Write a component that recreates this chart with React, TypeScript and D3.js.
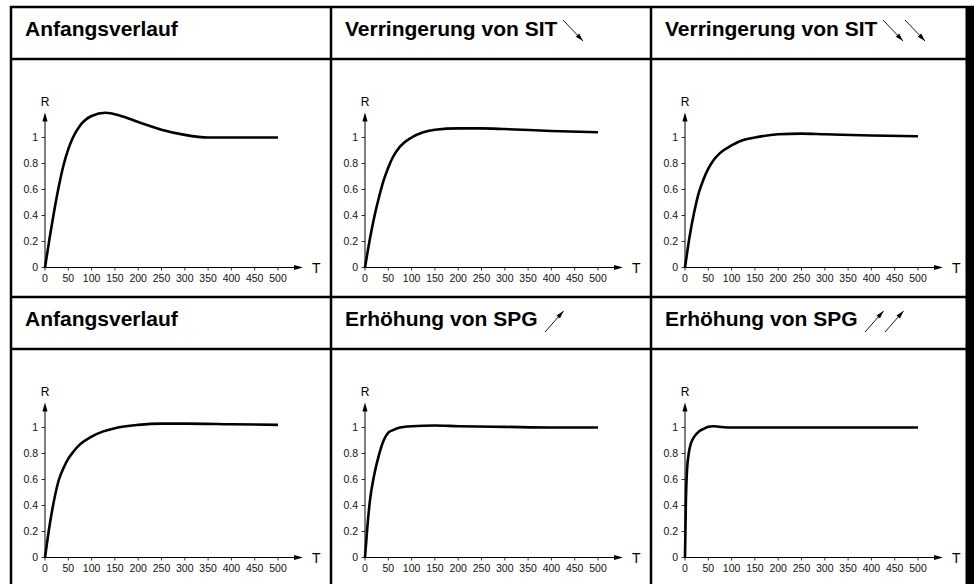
import * as d3 from 'd3';

// Response curves R over time T, one panel each
const anfang1T = [0, 10, 20, 30, 40, 50, 60, 75, 100, 130, 160, 200, 250, 300, 350, 400, 450, 500];
const anfang1R = [0, 0.23, 0.44, 0.63, 0.79, 0.91, 1.0, 1.09, 1.165, 1.19, 1.17, 1.12, 1.06, 1.02, 1.0, 1.0, 1.0, 1.0];

const sit1T = [0, 10, 20, 30, 40, 50, 60, 75, 100, 125, 150, 200, 250, 300, 400, 500];
const sit1R = [0, 0.21, 0.39, 0.54, 0.67, 0.77, 0.85, 0.93, 1.0, 1.04, 1.06, 1.07, 1.07, 1.065, 1.05, 1.04];

const sit2T = [0, 10, 20, 30, 40, 50, 60, 75, 100, 125, 150, 200, 250, 300, 400, 500];
const sit2R = [0, 0.24, 0.43, 0.58, 0.68, 0.76, 0.82, 0.88, 0.94, 0.98, 1.0, 1.025, 1.03, 1.025, 1.015, 1.01];

const anfang2T = [0, 10, 20, 30, 40, 50, 60, 75, 100, 125, 150, 200, 250, 300, 400, 500];
const anfang2R = [0, 0.25, 0.45, 0.6, 0.69, 0.76, 0.81, 0.87, 0.93, 0.97, 0.995, 1.02, 1.03, 1.03, 1.025, 1.02];

const spg1T = [0, 5, 10, 20, 30, 40, 50, 60, 75, 100, 150, 200, 300, 400, 500];
const spg1R = [0, 0.23, 0.42, 0.64, 0.79, 0.9, 0.96, 0.98, 1.0, 1.01, 1.015, 1.01, 1.005, 1.0, 1.0];

const spg2T = [0, 2, 4, 8, 12, 20, 30, 40, 50, 60, 75, 100, 200, 300, 500];
const spg2R = [0, 0.45, 0.65, 0.8, 0.87, 0.93, 0.97, 0.99, 1.005, 1.01, 1.005, 1.0, 1.0, 1.0, 1.0];

const titles = [
  'Anfangsverlauf', 'Verringerung von SIT', 'Verringerung von SIT',
  'Anfangsverlauf', 'Erhöhung von SPG', 'Erhöhung von SPG',
];
const xTicks = [0, 50, 100, 150, 200, 250, 300, 350, 400, 450, 500];
const yTicks = [0, 0.2, 0.4, 0.6, 0.8, 1];

const series = [
  { t: anfang1T, r: anfang1R, arrows: 0, dir: 'down' },
  { t: sit1T, r: sit1R, arrows: 1, dir: 'down' },
  { t: sit2T, r: sit2R, arrows: 2, dir: 'down' },
  { t: anfang2T, r: anfang2R, arrows: 0, dir: 'up' },
  { t: spg1T, r: spg1R, arrows: 1, dir: 'up' },
  { t: spg2T, r: spg2R, arrows: 2, dir: 'up' },
];

const W = 974;
const H = 584;
const colX = [11, 331, 651];
const rowY = [7, 297];
const font = '"Liberation Sans", Arial, sans-serif';

function arrowHead(x1: number, y1: number, x2: number, y2: number, len: number, half: number) {
  const a = Math.atan2(y2 - y1, x2 - x1);
  const bx = x2 - len * Math.cos(a);
  const by = y2 - len * Math.sin(a);
  const px = -Math.sin(a) * half;
  const py = Math.cos(a) * half;
  return `M${x2},${y2}L${bx + px},${by + py}L${bx - px},${by - py}Z`;
}

function Panel({ idx }: { idx: number }) {
  const col = idx % 3;
  const row = Math.floor(idx / 3);
  const left = colX[col];
  const top = rowY[row];
  const ox = left + 34;
  const oy = top + 52 + 208.5;
  const s = series[idx];

  const x = d3.scaleLinear().domain([0, 500]).range([ox, ox + 233]);
  const y = d3.scaleLinear().domain([0, 1]).range([oy, oy - 130]);
  const pts: [number, number][] = s.t.map((t, i) => [t, s.r[i]]);
  const line = d3.line<[number, number]>()
    .x(d => x(d[0]))
    .y(d => y(d[1]))
    .curve(d3.curveMonotoneX);

  const xEnd = ox + 258;
  const yEnd = oy - 155;

  // title arrows
  const arrowEls = [];
  for (let k = 0; k < s.arrows; k++) {
    let x1, y1, x2, y2;
    if (s.dir === 'down') {
      x1 = left + 232 + k * 22; y1 = top + 13;
      x2 = x1 + 20; y2 = y1 + 21;
    } else {
      x1 = left + 214 + k * 20; y1 = top + 35;
      x2 = x1 + 18.5; y2 = y1 - 21;
    }
    arrowEls.push(
      <g key={k}>
        <line x1={x1} y1={y1} x2={x2} y2={y2} stroke="#000" strokeWidth={0.9} />
        <path d={arrowHead(x1, y1, x2, y2, 8, 2.3)} fill="#000" />
      </g>
    );
  }

  return (
    <g>
      <text x={left + 14} y={top + 28.5} fontFamily={font} fontWeight="bold" fontSize={21} fill="#000">
        {titles[idx]}
      </text>
      {arrowEls}
      {/* axes */}
      <line x1={ox} y1={oy} x2={xEnd - 6} y2={oy} stroke="#000" strokeWidth={1} />
      <path d={arrowHead(ox, oy, xEnd, oy, 9, 2.6)} fill="#000" />
      <line x1={ox} y1={oy} x2={ox} y2={yEnd + 6} stroke="#000" strokeWidth={1} />
      <path d={arrowHead(ox, oy, ox, yEnd, 9, 2.6)} fill="#000" />
      <text x={xEnd + 9} y={oy + 5} fontFamily={font} fontSize={14} fill="#000">T</text>
      <text x={ox} y={yEnd - 7} textAnchor="middle" fontFamily={font} fontSize={12} fill="#000">R</text>
      {xTicks.map(t => (
        <g key={'x' + t}>
          <line x1={x(t)} y1={oy} x2={x(t)} y2={oy + 3} stroke="#000" strokeWidth={0.8} />
          <text x={x(t)} y={oy + 14.5} textAnchor="middle" fontFamily={font} fontSize={10.5} fill="#111">{t}</text>
        </g>
      ))}
      {yTicks.map(v => (
        <g key={'y' + v}>
          <line x1={ox - 3.5} y1={y(v)} x2={ox} y2={y(v)} stroke="#000" strokeWidth={0.8} />
          <text x={ox - 7} y={y(v) + 3.5} textAnchor="end" fontFamily={font} fontSize={10.5} fill="#111">{d3.format('')(v)}</text>
        </g>
      ))}
      <path d={line(pts) || ''} fill="none" stroke="#000" strokeWidth={2.6} strokeLinejoin="round" />
    </g>
  );
}

export default function App() {
  return (
    <svg width={W} height={H} style={{ position: 'absolute', left: 0, top: 0, background: '#fff' }}>
      <rect x={0} y={0} width={W} height={H} fill="#fff" />
      {[0, 1, 2, 3, 4, 5].map(i => <Panel key={i} idx={i} />)}
      {/* table grid */}
      {[7, 59, 297, 349].map(yy => (
        <line key={'h' + yy} x1={10} y1={yy} x2={W} y2={yy} stroke="#000" strokeWidth={2.5} />
      ))}
      {colX.map(xx => (
        <line key={'v' + xx} x1={xx} y1={6} x2={xx} y2={H} stroke="#000" strokeWidth={2.5} />
      ))}
      <rect x={965.5} y={6} width={W - 965.5} height={H} fill="#000" />
    </svg>
  );
}
